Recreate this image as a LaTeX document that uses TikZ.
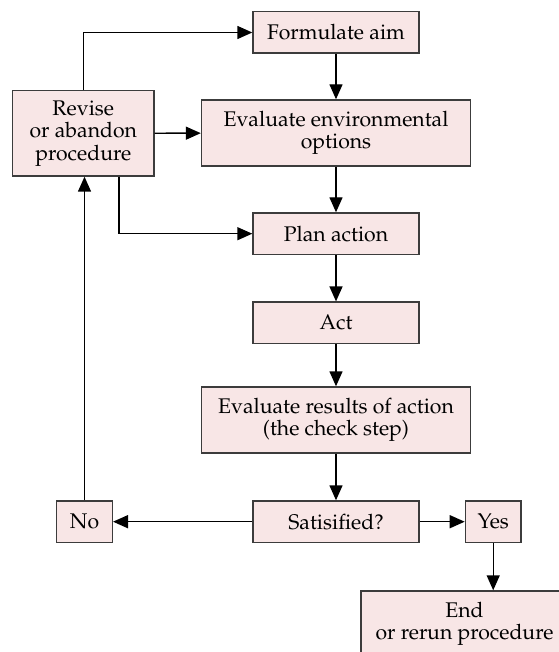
\documentclass[tikz,border=0pt]{standalone}
\usepackage[T1]{fontenc}
\usepackage{mathpazo}
\usetikzlibrary{arrows.meta,calc}
\definecolor{boxfill}{RGB}{248,230,230}
\definecolor{boxline}{RGB}{60,60,60}
\begin{document}
\begin{tikzpicture}[x=0.5pt,y=-0.5pt,
    box/.style={draw=boxline,fill=boxfill,line width=0.7pt,align=center,
      inner sep=0pt,font=\fontsize{10.6}{11.2}\selectfont},
    small/.style={box,minimum width=83pt,minimum height=20.7pt},
    wide/.style={box,minimum width=134.5pt,minimum height=33pt},
    tiny/.style={box,minimum width=27.8pt,minimum height=20.7pt},
    arr/.style={-{Triangle[length=7.5pt,width=6.5pt]},line width=0.7pt}]
  \useasboundingbox (0,0) rectangle (558,652);
  \node[small] (aim) at (336,32.5) {Formulate aim};
  \node[wide] (env) at (336,133) {Evaluate environmental\\options};
  \node[box,minimum width=70.7pt,minimum height=42.7pt] (revise) at (83.3,133.3)
    {Revise\\or abandon\\procedure};
  \node[small] (plan) at (336,233.7) {Plan action};
  \node[small] (act) at (336,322.8) {Act};
  \node[wide] (check) at (336,420) {Evaluate results of action\\(the check step)};
  \node[small] (sat) at (336,521.7) {Satisified?};
  \node[tiny] (no) at (84.5,521.7) {No};
  \node[tiny] (yes) at (493.2,521.7) {Yes};
  \node[box,minimum width=103.5pt,minimum height=33pt] (end) at (464.5,624)
    {End\\or rerun procedure};
  % main column
  \draw[arr] (aim) -- (env);
  \draw[arr] (env) -- (plan);
  \draw[arr] (plan) -- (act);
  \draw[arr] (act) -- (check);
  \draw[arr] (check) -- (sat);
  % decision
  \draw[arr] (sat) -- (no);
  \draw[arr] (sat) -- (yes);
  \draw[arr] (yes) -- (yes |- end.north);
  % feedback loop
  \draw[arr] (no) -- (no |- revise.south);
  \draw[arr] (revise.north) |- (aim);
  \draw[arr] (revise) -- (env);
  \draw[arr] ($(revise.south)!0.5!(revise.south east)$) |- (plan);
\end{tikzpicture}
\end{document}
